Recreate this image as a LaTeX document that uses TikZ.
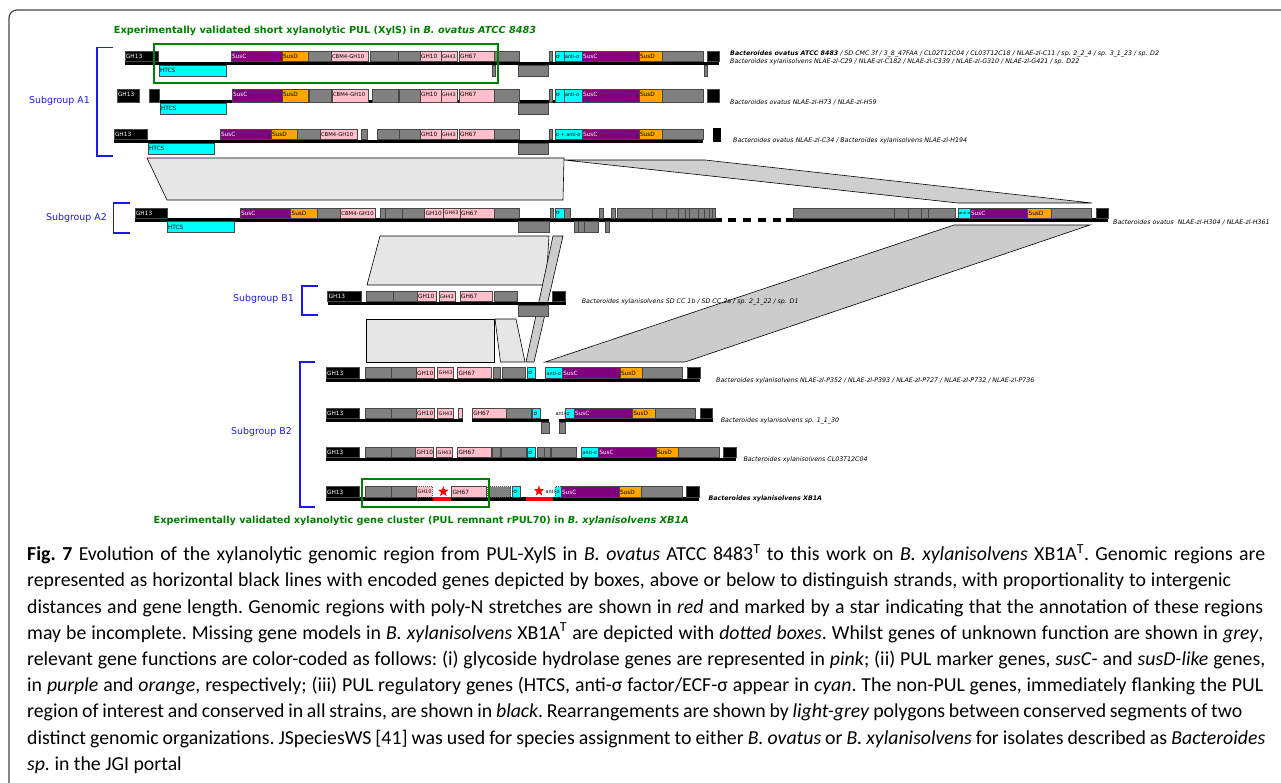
\documentclass[tikz,border=0pt]{standalone}
\usepackage{fontspec}
\setmainfont{Carlito}
\newfontfamily\verdana{DejaVu Sans}
\usetikzlibrary{shapes.geometric}
\definecolor{unkgrey}{RGB}{128,128,128}
\definecolor{ghpink}{RGB}{255,192,203}
\definecolor{suscpurple}{RGB}{128,0,128}
\definecolor{susdorange}{RGB}{255,165,0}
\definecolor{regcyan}{RGB}{0,255,255}
\definecolor{polylight}{RGB}{230,230,230}
\definecolor{polydark}{RGB}{204,204,204}
\definecolor{subblue}{RGB}{25,25,235}
\definecolor{pulgreen}{RGB}{0,128,0}
\definecolor{framegrey}{RGB}{70,70,70}
\newcommand{\genefont}{\verdana\fontsize{5.8}{6}\selectfont}
\newcommand{\gmid}{\fontsize{5.3}{6}\selectfont}
\newcommand{\gsmall}{\fontsize{4.9}{5}\selectfont}
\newcommand{\gtiny}{\fontsize{3.8}{4}\selectfont}
\newcommand{\capline}[2]{\makebox[#1pt][s]{#2}}
\tikzset{%
  gene/.style    = {draw=black!72, line width=0.8pt},%
  unk/.style     = {fill=unkgrey},%
  unkdot/.style  = {fill=unkgrey, dash pattern=on 1pt off 1pt},%
  gh/.style      = {fill=ghpink},%
  ghdot/.style   = {fill=ghpink, dash pattern=on 1pt off 1pt},%
  susC/.style    = {fill=suscpurple, text=white},%
  susD/.style    = {fill=susdorange},%
  reg/.style     = {fill=regcyan},%
  regdot/.style  = {fill=regcyan, dash pattern=on 1pt off 1pt},%
  flank/.style   = {fill=black, text=white},%
  glabel/.style  = {anchor=west, inner sep=0.8pt, fill=none, draw=none, font=\genefont},%
  poly/.style    = {draw=black, line width=0.6pt, fill=polylight},%
  polyd/.style   = {poly, fill=polydark},%
  strain/.style  = {anchor=west, inner sep=0pt, font={\verdana\itshape\fontsize{6.3}{7}\selectfont}},%
  subgrp/.style  = {anchor=east, inner sep=0pt, text=subblue, font={\verdana\fontsize{9.4}{11}\selectfont}},%
  bracket/.style = {draw=subblue, line width=1.6pt},%
  pulbox/.style  = {draw=pulgreen, line width=2pt},%
  pultitle/.style= {inner sep=0pt, text=pulgreen, font={\verdana\bfseries\fontsize{9.7}{11}\selectfont}},%
  framebox/.style= {draw=framegrey, line width=1.2pt, rounded corners=8pt},%
  capt/.style    = {anchor=north west, inner sep=0pt, align=left,%
                    font={\frenchspacing\fontsize{19.8}{26.2}\selectfont}}%
}

\begin{document}
\begin{tikzpicture}[x=1pt,y=-1pt]
\useasboundingbox (0,0) rectangle (1281,782);
\clip (0,0) rectangle (1281,782);
\draw[framebox] (9,800) |- (1300,10);

% rearrangements
\draw[poly] (147,158) -- (564,158) -- (563,200) -- (167,200) -- cycle;
\draw[poly, fill=polylight!90!black] (564,160) -- (705,160) -- (1092,203) -- (958,203) -- cycle;
\draw[poly] (380,236) -- (549,236) -- (546,285) -- (367,285) -- cycle;
\draw[polyd] (954,225) -- (1090,225) -- (685,362) -- (545,362) -- cycle;
\draw[polyd] (553,236) -- (563,236) -- (534,362) -- (526,362) -- cycle;
\draw[poly] (366,319) -- (494,319) -- (494,362) -- (366,362) -- cycle;
\draw[poly] (495,319) -- (516,319) -- (525,362) -- (500.5,362) -- cycle;

% subgroups
\draw[bracket] (112.7,47.3) -| (96.7,156) -- (112.7,156);
\node[subgrp] (sgA1) at (90,101) {Subgroup A1};
\draw[bracket] (130,203) -| (113.5,233) -- (130,233);
\node[subgrp] (sgA2) at (107,218) {Subgroup A2};
\draw[bracket] (318,285.7) -| (302,315) -- (318,315);
\node[subgrp] (sgB1) at (294,299.3) {Subgroup B1};
\draw[bracket] (315,361.7) -| (300,506.7) -- (315,506.7);
\node[subgrp] (sgB2) at (292,432) {Subgroup B2};

% A1, ATCC 8483
\begin{scope}[shift={(0,63.5)}]
  \fill (125,-1.7) rectangle (719,1.7);
  \foreach \a/\b/\s/\t in {125/158/flank/GH13, 231/282/susC/SusC, 282/308/susD/SusD, 308/331/unk/{},%
      331/368/gh/{\gmid CBM4-GH10}, 370/398/unk/{}, 398/420/unk/{}, 420/441/gh/GH10,%
      441/457/gh/{\gsmall GH43}, 459/494/gh/GH67, 494/519/unk/{}, 549/552/unk/{}, 555/564/reg/σ,%
      564/582/reg/{\gsmall anti-σ}, 582/639/susC/SusC, 639/662/susD/SusD, 662/703/unk/{}, 707/719/flank/{}}
    {\draw[gene,\s] (\a,-12) rectangle (\b,-1.7);
     \node[\s,glabel] at (\a,-6.8) {\t};}
  \foreach \a/\b/\s/\t in {159/226/reg/HTCS, 492/495/unk/{}, 518/548/unk/{}, 704/707/unk/{}}
    {\draw[gene,\s] (\a,1.7) rectangle (\b,13);
     \node[\s,glabel] at (\a,7.3) {\t};}
  \node[strain] (spA1a) at (730,-10) {\textbf{Bacteroides ovatus ATCC 8483} / SD CMC 3f / 3\_8\_47FAA / CL02T12C04 / CL03T12C18 / NLAE-zl-C11 / sp. 2\_2\_4 / sp. 3\_1\_23 / sp. D2};
  \node[strain] (spA1b) at (730,-1.5) {Bacteroides xylanisolvens NLAE-zl-C29 / NLAE-zl-C182 / NLAE-zl-C339 / NLAE-zl-G310 / NLAE-zl-G421 / sp. D22};
\end{scope}
\draw[pulbox] (154,44) rectangle (497.7,83);
\node[pultitle] (xyls) at (325,31) {Experimentally validated short xylanolytic PUL (XylS) in \textit{B. ovatus ATCC 8483}};

% A1, H73 / H59
\begin{scope}[shift={(0,101.5)}]
  \fill (149,-1.7) rectangle (703,1.7);
  \foreach \a/\b/\s/\t in {117/139/flank/GH13, 149/159/flank/{}, 232/282/susC/SusC, 282/308/susD/SusD,%
      309/331/unk/{}, 332/368/gh/{\gmid CBM4-GH10}, 372/398/unk/{}, 399/420/unk/{}, 420/441/gh/GH10,%
      441/457/gh/{\gsmall GH43}, 459/494/gh/GH67, 494/519/unk/{}, 549/552/unk/{}, 555/564/reg/σ,%
      564/582/reg/{\gsmall anti-σ}, 582/639/susC/SusC, 639/662/susD/SusD, 662/703/unk/{}, 707/719/flank/{}}
    {\draw[gene,\s] (\a,-12.5) rectangle (\b,0.5);
     \node[\s,glabel] at (\a,-6.8) {\t};}
  \foreach \a/\b/\s/\t in {160/226/reg/HTCS, 518/548/unk/{}}
    {\draw[gene,\s] (\a,1.7) rectangle (\b,13);
     \node[\s,glabel] at (\a,7.3) {\t};}
  \node[strain] (spA1c) at (730,1.2) {Bacteroides ovatus NLAE-zl-H73 / NLAE-zl-H59};
\end{scope}

% A1, C34 / H194
\begin{scope}[shift={(0,141.5)}]
  \fill (114,-1.7) rectangle (703,1.7);
  \foreach \a/\b/\s/\t in {114/147/flank/GH13, 220/271/susC/SusC, 271/297/susD/SusD, 297/320/unk/{},%
      320/357/gh/{\gmid CBM4-GH10}, 361/367/unk/{}, 377/399/unk/{}, 399/420/unk/{}, 420/441/gh/GH10,%
      441/457/gh/{\gsmall GH43}, 459/494/gh/GH67, 494/519/unk/{}, 549/552/unk/{},%
      555/582/reg/{\gsmall σ + anti-σ}, 582/639/susC/SusC, 639/662/susD/SusD, 662/703/unk/{}}
    {\draw[gene,\s] (\a,-12) rectangle (\b,-1.7);
     \node[\s,glabel] at (\a,-6.8) {\t};}
  \fill (713,-13.5) rectangle (721,0.2);
  \foreach \a/\b/\s/\t in {148/214/reg/HTCS, 518/548/unk/{}}
    {\draw[gene,\s] (\a,1.7) rectangle (\b,13);
     \node[\s,glabel] at (\a,7.3) {\t};}
  \node[strain] (spA1d) at (733,-0.8) {Bacteroides ovatus NLAE-zl-C34 / Bacteroides xylanisolvens NLAE-zl-H194};
\end{scope}

% A2
\begin{scope}[shift={(0,220)}]
  \fill (135,-1.7) rectangle (722,1.7);
  \foreach \x in {728,743,758,773} \fill (\x,-1.7) rectangle ++(7.5,3.4);
  \fill (786,-1.7) rectangle (1108,1.7);
  \foreach \a/\b/\s/\t in {135/167/flank/GH13, 240/290.6/susC/SusC, 290.6/317.6/susD/SusD, 317.6/340.4/unk/{},%
      340.4/375.5/gh/{\gmid CBM4-GH10}, 380.4/385.7/unk/{}, 385.7/402/unk/{}, 402/424.5/unk/{},%
      424.5/443.7/gh/GH10, 443.7/460/gh/{\gsmall GH43}, 460/494/gh/GH67, 494/519/unk/{}, 550/553/unk/{},%
      555/564.5/reg/σ, 564.5/570/unk/{}, 599/603/unk/{}, 611/615/unk/{}, 617/652/unk/{}, 652/666.6/unk/{},%
      666.6/678/unk/{}, 678/685/unk/{}, 685/689/unk/{}, 689/698.5/unk/{}, 698.5/704/unk/{}, 704/709.5/unk/{},%
      709.5/712.8/unk/{}, 712.8/715.6/unk/{}, 793/894/unk/{}, 894/908/unk/{}, 908/921/unk/{}, 921/928/unk/{},%
      928/955/unk/{}, 958/970/reg/{\gtiny anti-σ}, 970/1027.6/susC/SusC, 1027.6/1051/susD/SusD,%
      1051/1091.8/unk/{}, 1096/1108/flank/{}}
    {\draw[gene,\s] (\a,-12) rectangle (\b,-1.7);
     \node[\s,glabel] at (\a,-6.8) {\t};}
  \foreach \a/\b/\s/\t in {167/234/reg/HTCS, 518/549/unk/{}, 574/578/unk/{}, 578/584/unk/{}, 584/598/unk/{}, 605/609/unk/{}}
    {\draw[gene,\s] (\a,1.7) rectangle (\b,12.5);
     \node[\s,glabel] at (\a,7.1) {\t};}
  \node[strain] (spA2) at (1113,2) {Bacteroides ovatus\ \ NLAE-zl-H304 / NLAE-zl-H361};
\end{scope}

% B1
\begin{scope}[shift={(0,303.5)}]
  \fill (327.7,-1.7) rectangle (565.7,1.7);
  \foreach \a/\b/\s/\t in {327.7/361/flank/GH13, 366.7/393/unk/{}, 393/417/unk/{}, 417/436.7/gh/GH10,%
      439/455/gh/{\gsmall GH43}, 460/492.7/gh/GH67, 494/517.7/unk/{}, 552/565.7/flank/{}}
    {\draw[gene,\s] (\a,-12.5) rectangle (\b,-1.7);
     \node[\s,glabel] at (\a,-7) {\t};}
  \draw[gene,unk] (518,1.7) rectangle (548,12.5);
  \node[strain] (spB1) at (581.7,-2) {Bacteroides xylanisolvens SD CC 1b / SD CC 2a / sp. 2\_1\_22 / sp. D1};
\end{scope}

% B2, P352 ...
\begin{scope}[shift={(0,380.5)}]
  \fill (326,-1.7) rectangle (700,1.7);
  \foreach \a/\b/\s/\t in {326/359/flank/GH13, 365.3/391.7/unk/{}, 391.7/416/unk/{}, 416/434/gh/GH10,%
      437.7/453.3/gh/{\gsmall GH43}, 457.7/491.7/gh/GH67, 493.3/500.7/unk/{}, 502/525.7/unk/{},%
      527.3/535.3/reg/σ, 545.7/562.3/reg/{\gsmall anti-σ}, 562.3/620/susC/SusC, 620/642.7/susD/SusD,%
      642.7/682.7/unk/{}, 687.3/700/flank/{}}
    {\draw[gene,\s] (\a,-13) rectangle (\b,-1.7);
     \node[\s,glabel] at (\a,-7.3) {\t};}
  \node[strain] (spB2a) at (716,0) {Bacteroides xylanisolvens NLAE-zl-P352 / NLAE-zl-P393 / NLAE-zl-P727 / NLAE-zl-P732 / NLAE-zl-P736};
\end{scope}

% B2, sp. 1_1_30
\begin{scope}[shift={(0,420.5)}]
  \fill (326,-1.7) rectangle (462.7,1.7);
  \fill (472.3,-1.7) rectangle (549,1.7);
  \fill (559,-1.7) rectangle (712.7,1.7);
  \foreach \a/\b/\s/\t in {326/359/flank/GH13, 365.3/391.7/unk/{}, 391.7/416/unk/{}, 416/434/gh/GH10,%
      437.7/453.3/gh/{\gsmall GH43}, 458.3/462.7/gh/{}, 472.3/506.7/gh/GH67, 506.7/531.7/unk/{},%
      532.7/540.7/reg/σ, 565.7/574/reg/{}, 574/632.3/susC/SusC, 632.3/655/susD/SusD,%
      655/695.7/unk/{}, 700/712.7/flank/{}}
    {\draw[gene,\s] (\a,-12.5) rectangle (\b,-1.7);
     \node[\s,glabel] at (\a,-7) {\t};}
  \node[glabel] (asB2b) at (554.5,-7) {\gsmall anti-σ};
  \foreach \a/\b in {541.7/549, 559/565.7}
    \draw[gene,unk] (\a,1.7) rectangle (\b,12.5);
  \node[strain] (spB2b) at (720.7,0) {Bacteroides xylanisolvens sp. 1\_1\_30};
\end{scope}

% B2, CL03T12C04
\begin{scope}[shift={(0,459.5)}]
  \fill (326,-1.7) rectangle (736,1.7);
  \foreach \a/\b/\s/\t in {326/359/flank/GH13, 365/391.7/unk/{}, 391.7/415.7/unk/{}, 415.7/433.3/gh/GH10,%
      436.7/452.7/gh/{\gsmall GH43}, 457.7/491.7/gh/GH67, 492.7/500.7/unk/{}, 501.7/526/unk/{},%
      527.3/535.3/reg/σ, 537.7/544/unk/{}, 544/550/unk/{}, 551/576.7/unk/{},%
      581.7/598.3/reg/{\gsmall anti-σ}, 598.3/656/susC/SusC, 656/678.3/susD/SusD,%
      678.3/719.3/unk/{}, 723.3/736/flank/{}}
    {\draw[gene,\s] (\a,-12.5) rectangle (\b,-1.7);
     \node[\s,glabel] at (\a,-7) {\t};}
  \node[strain] (spB2c) at (743.3,0) {Bacteroides xylanisolvens CL03T12C04};
\end{scope}

% B2, XB1A
\begin{scope}[shift={(0,499)}]
  \fill (326,-1.7) rectangle (699,1.7);
  \fill[red] (433.3,-1.7) rectangle (451,1.9);
  \fill[red] (525.7,-1.7) rectangle (553.3,1.9);
  \foreach \a/\b/\s/\t in {326/359/flank/GH13, 365.7/391.7/unk/{}, 391.7/416.7/unk/{},%
      416.7/432.3/ghdot/{\gsmall GH10}, 451.7/486.7/gh/GH67, 487.7/510.7/unkdot/{},%
      512.3/520.3/reg/σ, 555/561/regdot/{}, 561/619/susC/SusC, 619/641.7/susD/SusD,%
      641.7/682.3/unk/{}, 686/699/flank/{}}
    {\draw[gene,\s] (\a,-12.5) rectangle (\b,-1.7);
     \node[\s,glabel] at (\a,-7) {\t};}
  \node[glabel] (asB2d) at (544.5,-7) {\gsmall anti-σ};
  \node[star, star points=5, star point ratio=2.4, fill=red, inner sep=0pt, minimum size=11pt] (polyN1) at (443.3,-7.5) {};
  \node[star, star points=5, star point ratio=2.4, fill=red, inner sep=0pt, minimum size=11pt] (polyN2) at (539,-8) {};
  \node[strain] (spB2d) at (708.3,0) {\textbf{Bacteroides xylanisolvens XB1A}};
\end{scope}
\draw[pulbox] (362,479) rectangle (488.7,507);
\node[pultitle, anchor=east] (rpul) at (689,521) {Experimentally validated xylanolytic gene cluster (PUL remnant rPUL70) in \textit{B. xylanisolvens XB1A}};

% caption
\node[capt] (cap) at (27,544) {%
\capline{1238}{\textbf{Fig.~7} Evolution of the xylanolytic genomic region from PUL-XylS in \textit{B. ovatus} ATCC 8483\textsuperscript{T} to this work on \textit{B. xylanisolvens} XB1A\textsuperscript{T}. Genomic regions are}\\
\capline{1204}{represented as horizontal black lines with encoded genes depicted by boxes, above or below to distinguish strands, with proportionality to intergenic}\\
\capline{1236}{distances and gene length. Genomic regions with poly-N stretches are shown in \textit{red} and marked by a star indicating that the annotation of these regions}\\
\capline{1236}{may be incomplete. Missing gene models in \textit{B. xylanisolvens} XB1A\textsuperscript{T} are depicted with \textit{dotted boxes}. Whilst genes of unknown function are shown in \textit{grey},}\\
\capline{1238}{relevant gene functions are color-coded as follows: (i) glycoside hydrolase genes are represented in \textit{pink}; (ii) PUL marker genes, \textit{susC}- and \textit{susD-like} genes,}\\
\capline{1236}{in \textit{purple} and \textit{orange}, respectively; (iii) PUL regulatory genes (HTCS, anti-σ factor/ECF-σ appear in \textit{cyan}. The non-PUL genes, immediately flanking the PUL}\\
\capline{1215}{region of interest and conserved in all strains, are shown in \textit{black}. Rearrangements are shown by \textit{light-grey} polygons between conserved segments of two}\\
\capline{1238}{distinct genomic organizations. JSpeciesWS [41] was used for species assignment to either \textit{B. ovatus} or \textit{B. xylanisolvens} for isolates described as \textit{Bacteroides}}\\
\textit{sp.} in the JGI portal};
\end{tikzpicture}
\end{document}
